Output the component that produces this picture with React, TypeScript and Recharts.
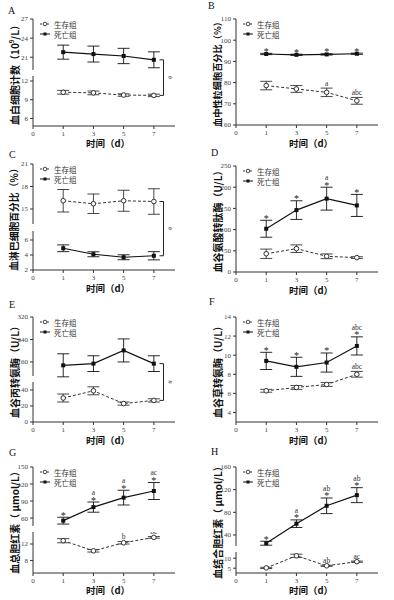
import { LineChart, Line, XAxis, YAxis, ErrorBar } from 'recharts';

// x positions 0..4 carry the day labels (GraphPad style evenly spaced days)
const dayLabels = ['1', '3', '5', '7'];
const xTickLabels = ['0', '1', '3', '5', '7'];
const xTickPositions = [0, 1, 2, 3, 4];
const X_MAX = 4.7;
const BRACKET_X = 4.32;

const noMarks = ['', '', '', ''];
const allStars = ['*', '*', '*', '*'];

// A - white blood cells
const wbcSurvive = [10.2, 10.1, 9.75, 9.7];
const wbcSurviveErr = [0.3, 0.3, 0.2, 0.2];
const wbcDead = [21.8, 21.5, 21.2, 20.6];
const wbcDeadErr = [1.1, 1.25, 1.2, 1.25];

// B - neutrophil %
const neutSurvive = [78.6, 77.0, 75.4, 71.4];
const neutSurviveErr = [2.0, 1.6, 2.0, 1.6];
const neutDead = [93.5, 93.1, 93.3, 93.6];
const neutDeadErr = [0.3, 0.3, 0.3, 0.3];
const neutSurviveMarks = ['', '', 'a', 'abc'];

// C - lymphocyte %
const lymphSurvive = [16.1, 15.7, 16.1, 16.0];
const lymphSurviveErr = [1.5, 1.3, 1.4, 1.7];
const lymphDead = [4.9, 4.1, 3.7, 3.9];
const lymphDeadErr = [0.45, 0.33, 0.33, 0.55];

// D - GGT
const ggtSurvive = [43, 55, 37, 34];
const ggtSurviveErr = [11, 9, 5.5, 2];
const ggtDead = [102, 146, 173, 157];
const ggtDeadErr = [20, 22, 27, 26];
const ggtDeadMarks = ['', '', 'a', ''];

// E - ALT
const altSurvive = [30, 39, 23, 27];
const altSurviveErr = [5, 5, 2, 2];
const altDead = [148, 154, 201, 154];
const altDeadErr = [41, 28, 41, 28];

// F - AST
const astSurvive = [6.27, 6.62, 6.93, 8.0];
const astSurviveErr = [0.15, 0.2, 0.2, 0.3];
const astDead = [9.4, 8.78, 9.23, 10.97];
const astDeadErr = [0.9, 1.0, 1.0, 0.95];
const astSurviveMarks = ['', '', '', 'abc'];
const astDeadMarks = ['', '', '', 'abc'];

// G - total bilirubin
const tbilSurvive = [12.8, 10.36, 12.3, 13.6];
const tbilSurviveErr = [0.5, 0.3, 0.3, 0.2];
const tbilDead = [55.4, 79.3, 96, 107.7];
const tbilDeadErr = [6, 9, 13, 15];
const tbilSurviveMarks = ['', '', 'b', 'bc'];
const tbilDeadMarks = ['', 'a', 'a', 'ac'];

// H - direct bilirubin
const dbilSurvive = [5.15, 11.2, 6.2, 8.25];
const dbilSurviveErr = [0.3, 0.8, 0.3, 0.3];
const dbilDead = [25.4, 59.9, 91.5, 110.3];
const dbilDeadErr = [3.5, 6.7, 13.8, 13.2];
const dbilSurviveMarks = ['', 'a', 'ab', 'ac'];
const dbilDeadMarks = ['', 'a', 'ab', 'ab'];

const legendNames = ['生存组', '死亡组'];

const Y_W = 28;
const PLOT_W = 142;
const MR = 4;
const MT = 4;
const SERIF = '"Liberation Serif", "DejaVu Serif", serif';
const CJK = '"Noto Sans CJK SC", sans-serif';

type Key = 'survive' | 'dead';
type Seg = { domain: [number, number]; ticks: number[]; top: number; bottom: number; series: Key[] };

const rows = (s: number[], sErr: number[], d: number[], dErr: number[]) =>
  dayLabels.map((day, i) => ({ x: i + 1, day, survive: s[i], surviveErr: sErr[i], dead: d[i], deadErr: dErr[i] }));

const panels = [
  {
    letter: 'A', axisX: 33, letterX: 8, letterY: 14, xLabelY: 143, labelSize: 10,
    yLabel: ['血白细胞计数（10', '9', '/L）'],
    data: rows(wbcSurvive, wbcSurviveErr, wbcDead, wbcDeadErr),
    segs: [
      { domain: [19, 27], ticks: [21, 24, 27], top: 19, bottom: 70, series: ['dead'] },
      { domain: [4.8, 12.8], ticks: [6, 9, 12], top: 76, bottom: 126, series: ['survive'] },
    ] as Seg[],
    bracket: true, surviveMarks: noMarks, deadStars: noMarks, deadMarks: noMarks,
  },
  {
    letter: 'B', axisX: 236, letterX: 208, letterY: 9, xLabelY: 143, labelSize: 9.2,
    yLabel: ['血中性粒细胞百分比（%）'],
    data: rows(neutSurvive, neutSurviveErr, neutDead, neutDeadErr),
    segs: [{ domain: [60, 110], ticks: [60, 70, 80, 90, 100, 110], top: 19, bottom: 125, series: ['survive', 'dead'] }] as Seg[],
    bracket: false, surviveMarks: neutSurviveMarks, deadStars: allStars, deadMarks: noMarks,
  },
  {
    letter: 'C', axisX: 33, letterX: 9, letterY: 158, xLabelY: 288, labelSize: 9.8,
    yLabel: ['血淋巴细胞百分比（%）'],
    data: rows(lymphSurvive, lymphSurviveErr, lymphDead, lymphDeadErr),
    segs: [
      { domain: [13, 21], ticks: [15, 18, 21], top: 164, bottom: 224, series: ['survive'] },
      { domain: [2, 7.2], ticks: [2, 4, 6], top: 231, bottom: 270, series: ['dead'] },
    ] as Seg[],
    bracket: true, surviveMarks: noMarks, deadStars: noMarks, deadMarks: noMarks,
  },
  {
    letter: 'D', axisX: 236, letterX: 211, letterY: 156, xLabelY: 290, labelSize: 10,
    yLabel: ['血谷氨酸转肽酶（U/L）'],
    data: rows(ggtSurvive, ggtSurviveErr, ggtDead, ggtDeadErr),
    segs: [{ domain: [0, 250], ticks: [0, 50, 100, 150, 200, 250], top: 166, bottom: 272, series: ['survive', 'dead'] }] as Seg[],
    bracket: false, surviveMarks: noMarks, deadStars: allStars, deadMarks: ggtDeadMarks,
  },
  {
    letter: 'E', axisX: 33, letterX: 9, letterY: 308, xLabelY: 440, labelSize: 10,
    yLabel: ['血谷丙转氨酶（U/L）'],
    data: rows(altSurvive, altSurviveErr, altDead, altDeadErr),
    segs: [
      { domain: [110, 320], ticks: [160, 240, 320], top: 317, bottom: 376, series: ['dead'] },
      { domain: [0, 50], ticks: [0, 20, 40], top: 382, bottom: 422, series: ['survive'] },
    ] as Seg[],
    bracket: true, surviveMarks: noMarks, deadStars: noMarks, deadMarks: noMarks,
  },
  {
    letter: 'F', axisX: 236, letterX: 209, letterY: 305, xLabelY: 440, labelSize: 10,
    yLabel: ['血谷草转氨酶（U/L）'],
    data: rows(astSurvive, astSurviveErr, astDead, astDeadErr),
    segs: [{ domain: [3, 14], ticks: [4, 6, 8, 10, 12, 14], top: 317, bottom: 422, series: ['survive', 'dead'] }] as Seg[],
    bracket: false, surviveMarks: astSurviveMarks, deadStars: allStars, deadMarks: astDeadMarks,
  },
  {
    letter: 'G', axisX: 33, letterX: 9, letterY: 456, xLabelY: 590, labelSize: 10,
    yLabel: ['血总胆红素（ μmol/L）'],
    data: rows(tbilSurvive, tbilSurviveErr, tbilDead, tbilDeadErr),
    segs: [
      { domain: [46, 150], ticks: [60, 90, 120, 150], top: 467, bottom: 526, series: ['dead'] },
      { domain: [5, 14.9], ticks: [8, 12], top: 532, bottom: 573, series: ['survive'] },
    ] as Seg[],
    bracket: false, surviveMarks: tbilSurviveMarks, deadStars: allStars, deadMarks: tbilDeadMarks,
  },
  {
    letter: 'H', axisX: 236, letterX: 211, letterY: 455, xLabelY: 590, labelSize: 10,
    yLabel: ['血结合胆红素（ μmol/L）'],
    data: rows(dbilSurvive, dbilSurviveErr, dbilDead, dbilDeadErr),
    segs: [
      { domain: [20.5, 160], ticks: [40, 80, 120, 160], top: 467, bottom: 546, series: ['dead'] },
      { domain: [2.6, 13.1], ticks: [5, 10], top: 552, bottom: 573, series: ['survive'] },
    ] as Seg[],
    bracket: false, surviveMarks: dbilSurviveMarks, deadStars: allStars, deadMarks: dbilDeadMarks,
  },
];

type Panel = (typeof panels)[number];

const pxPer = (seg: Seg) => (seg.bottom - seg.top) / (seg.domain[1] - seg.domain[0]);
const valueToY = (seg: Seg, v: number) => seg.top + (seg.domain[1] - v) * pxPer(seg);
const xToPx = (panel: Panel, x: number) => panel.axisX + (x / X_MAX) * PLOT_W;

function makeDot(kind: Key, panel: Panel, seg: Seg) {
  const errs = panel.data.map((d) => (kind === 'dead' ? d.deadErr : d.surviveErr));
  const stars = kind === 'dead' ? panel.deadStars : noMarks;
  const letters = kind === 'dead' ? panel.deadMarks : panel.surviveMarks;
  const k = pxPer(seg);
  return (props: any) => {
    const { cx, cy, index } = props;
    if (cx == null || cy == null) return <g key={`${kind}-${index}`} />;
    const errTop = cy - errs[index] * k;
    const starBase = errTop + 1.5;
    const letterBase = stars[index] ? starBase - 8.5 : errTop - 2.5;
    return (
      <g key={`${kind}-${index}`}>
        {kind === 'dead' ? (
          <rect x={cx - 2} y={cy - 2} width={4} height={4} fill="#111" />
        ) : (
          <circle cx={cx} cy={cy} r={2.3} fill="#fff" stroke="#333" strokeWidth={1} />
        )}
        {stars[index] && (
          <text x={cx} y={starBase} textAnchor="middle" fontSize={10} fontFamily={SERIF} fill="#222" stroke="none">
            {stars[index]}
          </text>
        )}
        {letters[index] && (
          <text x={cx} y={letterBase} textAnchor="middle" fontSize={7.5} fontFamily={SERIF} fill="#333" stroke="none">
            {letters[index]}
          </text>
        )}
      </g>
    );
  };
}

function SegmentChart({ panel, seg, last }: { panel: Panel; seg: Seg; last: boolean }) {
  const segH = seg.bottom - seg.top;
  const xH = last ? 12 : 0;
  const mb = last ? 0 : 4;
  const tick = { fontSize: 7, fill: '#444', fontFamily: SERIF };
  return (
    <div style={{ position: 'absolute', left: panel.axisX - Y_W, top: seg.top - MT }}>
      <LineChart
        width={Y_W + PLOT_W + MR}
        height={MT + segH + xH + mb}
        data={panel.data}
        margin={{ top: MT, right: MR, bottom: mb, left: 0 }}
      >
        <XAxis
          type="number"
          dataKey="x"
          domain={[0, X_MAX]}
          ticks={xTickPositions}
          tickFormatter={(v: number) => xTickLabels[v]}
          interval={0}
          hide={!last}
          height={xH}
          allowDataOverflow
          tickSize={3}
          tick={tick}
          axisLine={{ stroke: '#333' }}
          tickLine={{ stroke: '#333' }}
        />
        <YAxis
          type="number"
          domain={seg.domain}
          ticks={seg.ticks}
          interval={0}
          width={Y_W}
          allowDataOverflow
          tickSize={3}
          tick={tick}
          axisLine={{ stroke: '#333' }}
          tickLine={{ stroke: '#333' }}
        />
        {seg.series.includes('survive') && (
          <Line
            type="linear"
            dataKey="survive"
            stroke="#333"
            strokeWidth={1}
            strokeDasharray="3 2"
            dot={makeDot('survive', panel, seg)}
            activeDot={false}
            isAnimationActive={false}
          >
            <ErrorBar dataKey="surviveErr" width={6} stroke="#333" strokeWidth={0.9} />
          </Line>
        )}
        {seg.series.includes('dead') && (
          <Line
            type="linear"
            dataKey="dead"
            stroke="#111"
            strokeWidth={1.2}
            dot={makeDot('dead', panel, seg)}
            activeDot={false}
            isAnimationActive={false}
          >
            <ErrorBar dataKey="deadErr" width={6} stroke="#111" strokeWidth={0.9} />
          </Line>
        )}
      </LineChart>
    </div>
  );
}

function PanelText({ panel }: { panel: Panel }) {
  const top = panel.segs[0].top;
  const bottom = panel.segs[panel.segs.length - 1].bottom;
  const labelX = panel.axisX - 19;
  const labelY = (top + bottom) / 2;
  const lx = panel.axisX + 7;
  const segOf = (key: Key) => panel.segs.find((s) => s.series.includes(key)) as Seg;
  let bracket = null;
  if (panel.bracket) {
    const last = panel.data.length - 1;
    const y1 = valueToY(segOf('dead'), panel.data[last].dead);
    const y2 = valueToY(segOf('survive'), panel.data[last].survive);
    const bx = xToPx(panel, BRACKET_X);
    const ya = Math.min(y1, y2);
    const yb = Math.max(y1, y2);
    bracket = (
      <g>
        <polyline points={`${bx - 4},${ya} ${bx},${ya} ${bx},${yb} ${bx - 4},${yb}`} fill="none" stroke="#222" strokeWidth={1} />
        <text
          x={bx + 6}
          y={(ya + yb) / 2}
          fontSize={7}
          fontFamily={SERIF}
          fill="#333"
          textAnchor="middle"
          dominantBaseline="central"
          transform={`rotate(90 ${bx + 6} ${(ya + yb) / 2})`}
        >
          #
        </text>
      </g>
    );
  }
  return (
    <g>
      <text x={panel.letterX} y={panel.letterY} fontSize={10} fontFamily={SERIF} fill="#111">
        {panel.letter}
      </text>
      <text
        transform={`translate(${labelX},${labelY}) rotate(-90)`}
        textAnchor="middle"
        dominantBaseline="central"
        fontSize={panel.labelSize}
        fontWeight="bold"
        fontFamily={CJK}
        fill="#111"
      >
        {panel.yLabel[0]}
        {panel.yLabel.length > 1 && (
          <>
            <tspan dy={-3} fontSize={6}>{panel.yLabel[1]}</tspan>
            <tspan dy={3}>{panel.yLabel[2]}</tspan>
          </>
        )}
      </text>
      <text
        x={panel.axisX + 75}
        y={panel.xLabelY}
        textAnchor="middle"
        dominantBaseline="central"
        fontSize={9.5}
        fontWeight="bold"
        fontFamily={CJK}
        fill="#111"
      >
        时间（d）
      </text>
      {legendNames.map((name, i) => {
        const y = top + 5 + i * 10;
        return (
          <g key={name}>
            <line x1={lx} x2={lx + 10} y1={y} y2={y} stroke={i === 0 ? '#333' : '#111'} strokeDasharray={i === 0 ? '2 1.5' : undefined} strokeWidth={1} />
            {i === 0 ? (
              <circle cx={lx + 5} cy={y} r={1.8} fill="#fff" stroke="#333" strokeWidth={0.9} />
            ) : (
              <rect x={lx + 3.5} y={y - 1.5} width={3} height={3} fill="#111" />
            )}
            <text x={lx + 14} y={y} dominantBaseline="central" fontSize={7.5} fontFamily={CJK} fill="#333">
              {name}
            </text>
          </g>
        );
      })}
      {bracket}
    </g>
  );
}

export default function App() {
  return (
    <div style={{ position: 'absolute', left: 0, top: 0, width: 394, height: 600, background: '#fff', overflow: 'hidden' }}>
      <style>{'.recharts-surface { overflow: visible; }'}</style>
      {panels.map((panel) =>
        panel.segs.map((seg, i) => (
          <SegmentChart key={`${panel.letter}-${i}`} panel={panel} seg={seg} last={i === panel.segs.length - 1} />
        ))
      )}
      <svg width={394} height={600} style={{ position: 'absolute', left: 0, top: 0, pointerEvents: 'none' }}>
        {panels.map((panel) => (
          <PanelText key={panel.letter} panel={panel} />
        ))}
      </svg>
    </div>
  );
}
